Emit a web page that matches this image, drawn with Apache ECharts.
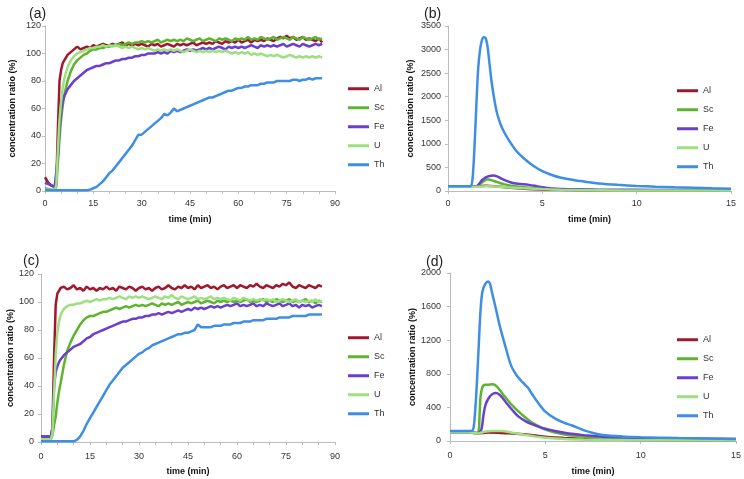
<!DOCTYPE html>
<html>
<head>
<meta charset="utf-8">
<script src="https://cdn.jsdelivr.net/npm/echarts@6/dist/echarts.min.js"></script>
<style>
html,body{margin:0;padding:0;background:#fff;}
#chart{width:744px;height:479px;}
</style>
</head>
<body>
<div id="chart"></div>
<script>
// ---------- Data ----------
var names = ['Al', 'Sc', 'Fe', 'U', 'Th'];
var colors = ['#A0182D', '#5DB52E', '#6A3FD0', '#9DE07F', '#3E8EE6'];

// time (min) for panels (a) and (c)
var tA = [0,1,2,3,3.5,4,4.5,5,5.5,
  6,7,8,9,10,11,12,13,14,15,16,17,18,19,20,21,22,23,24,25,26,27,28,29,30,
  31,32,33,34,35,36,37,38,39,40,41,42,43,44,45,46,47,48,49,50,51,52,53,54,55,
  56,57,58,59,60,61,62,63,64,65,66,67,68,69,70,71,72,73,74,75,76,77,78,79,80,
  81,82,83,84,85,86];

// panel (a)
var alA = [10,6,4,3,5,45,80,88,93,
  95,99,101,103,105,103,104,105,104,106,105,106,107,106,106,107,106,107,108,106,107,106,107,106,107,
  106,105,107,106,107,105,106,107,106,105,107,106,107,106,107,108,106,107,108,107,108,107,109,108,107,
  109,108,109,108,110,108,109,110,108,110,109,110,109,111,110,109,111,112,111,113,111,112,110,111,112,
  110,111,110,109,111,108];
var scA = [2,1.5,1,1,3,20,38,52,62,
  70,80,87,92,95,97,99,100,102,103,103,104,104,105,105,106,106,107,106,107,108,107,108,108,109,
  108,109,108,109,110,108,109,110,109,110,109,110,109,111,110,109,110,111,109,110,111,110,109,111,110,
  111,110,109,111,110,111,110,112,110,111,110,112,111,110,111,112,110,111,112,111,110,112,111,110,112,
  111,110,111,112,110,111];
var feA = [6,5,4,3,4,25,45,58,65,
  69,74,77,80,82,84,86,88,89,90,91,91,92,93,93,94,95,95,96,96,97,97,98,98,99,
  99,100,100,100,101,100,101,100,102,101,102,101,102,103,102,103,102,103,104,103,104,103,104,105,104,
  103,105,104,105,104,105,104,105,106,105,104,106,105,106,105,106,105,106,107,105,106,107,106,105,107,
  106,105,106,107,106,107];
var uA = [1,1,1,1,4,30,52,65,75,
  82,90,95,98,100,101,102,103,104,104,105,105,106,105,106,105,106,105,104,105,104,105,104,103,104,
  103,104,103,102,103,102,103,102,103,102,103,102,101,102,103,102,101,102,101,102,101,102,101,102,101,
  102,101,100,101,100,101,100,101,99,100,99,100,99,98,99,98,99,98,97,98,99,98,97,98,97,
  98,97,98,97,98,97];
var thA = [0.5,0.5,0.5,0.5,0.5,0.5,0.5,0.5,0.5,
  0.5,0.5,0.5,0.5,0.5,0.5,0.5,0.5,1,2,3,5,7,10,13,15,18,21,24,27,30,33,37,41,41,
  43,45,47,49,51,53,56,55,57,60,58,59,60,61,62,63,64,65,66,67,68,68,69,70,71,
  72,73,73,74,75,75,76,76,77,77,77,78,78,79,79,79,80,80,80,80,80,81,81,80,81,
  81,82,81,82,82,82];

// panel (c)
var alC = [4,4,4,3.5,10,60,98,106,108,
  110,111,109,110,112,109,110,108,111,109,110,108,110,109,111,109,110,108,111,110,109,111,110,108,110,
  111,109,110,108,110,111,109,110,112,110,109,111,110,112,110,111,109,112,110,111,112,110,111,109,111,
  112,110,111,112,110,112,111,110,112,111,113,111,110,112,111,110,112,111,113,112,114,111,110,112,111,
  110,112,111,110,112,111];
var scC = [2,2,2,2,5,12,18,28,36,
  42,55,65,71,76,80,84,87,89,90,90,91,92,93,93,94,95,96,95,96,97,96,97,98,97,
  98,97,98,99,98,97,99,98,99,98,99,100,98,99,100,99,100,101,99,100,101,100,99,101,100,
  101,100,101,100,101,100,101,102,100,101,100,101,102,100,101,100,102,101,100,101,102,100,101,100,101,
  102,100,101,99,101,100];
var feC = [4,4,4,4,10,40,50,54,57,
  59,62,64,66,68,69,70,72,74,75,77,78,79,80,81,82,83,84,85,86,86,87,88,88,89,
  89,90,90,91,91,92,91,92,93,92,93,94,93,94,95,94,96,95,96,95,96,97,96,97,96,
  97,98,97,98,99,97,98,97,98,99,97,98,97,99,98,97,98,99,97,98,99,97,98,96,98,
  97,98,96,97,98,97];
var uC = [2,2,2,2,6,35,62,78,86,
  91,95,97,98,98,99,99,100,101,100,101,102,101,102,102,103,102,103,104,103,102,104,103,104,103,
  104,103,102,103,104,103,102,104,103,105,103,102,104,103,102,103,104,102,103,102,103,104,102,103,102,
  103,102,101,103,102,101,103,102,101,102,101,102,101,102,101,102,100,101,102,101,100,101,102,100,101,
  100,101,100,102,100,101];
var thC = [0.5,0.5,0.5,0.5,0.5,0.5,0.5,0.5,0.5,
  0.5,0.5,0.5,0.5,0.5,1.5,4,8,13,17,21,25,29,33,37,41,44,47,50,53,55,57,59,61,63,
  64,66,67,69,70,71,72,73,74,75,76,77,77,78,78,79,80,84,82,82,82,82,83,83,83,
  84,84,84,85,85,85,86,86,86,87,87,87,87,88,88,88,88,89,89,89,89,90,90,90,90,
  90,91,91,91,91,91];

// panel (b): [time, value]
var alB = [[0,100],[1.5,100],[2,110],[2.5,100],[3,80],[3.5,65],[4,50],[5,32],[6,24],[7,18],[9,14],[12,10],[15,8]];
var scB = [[0,100],[1.5,100],[1.7,150],[1.9,210],[2.1,250],[2.3,230],[2.6,190],[3,140],[3.5,105],[4,80],[4.5,65],[5,50],[6,32],[7,24],[8,18],[10,14],[15,10]];
var feB = [[0,100],[1,100],[1.5,100],[1.65,150],[1.8,230],[2,290],[2.2,320],[2.4,330],[2.6,310],[2.8,270],[3,230],[3.3,185],[3.6,160],[4,145],[4.3,130],[4.6,110],[5,80],[5.5,55],[6,42],[7,33],[8,28],[10,25],[12,22],[15,20]];
var uB = [[0,90],[1,90],[1.5,88],[2,100],[2.3,100],[3,80],[3.5,70],[4,58],[5,40],[6,26],[7,18],[9,12],[12,10],[15,8]];
var thB = [[0,100],[0.5,100],[1,100],[1.2,105],[1.3,250],[1.4,900],[1.5,1800],[1.6,2600],[1.7,3000],[1.8,3200],[1.9,3260],[2,3240],[2.1,3050],[2.2,2700],[2.3,2350],[2.45,1950],[2.6,1650],[2.8,1400],[3,1230],[3.3,1030],[3.6,860],[4,700],[4.5,540],[5,420],[5.5,340],[6,280],[6.5,245],[7,210],[7.5,185],[8,160],[9,130],[10,108],[11,90],[12,78],[13,68],[14,58],[15,50]];

// panel (d): [time, value]
var alD = [[0,100],[1,100],[1.5,90],[2,100],[2.5,98],[3,92],[3.5,85],[4,78],[4.5,65],[5,52],[5.5,42],[6,35],[7,25],[8,18],[10,12],[15,6]];
var scD = [[0,100],[1,100],[1.4,95],[1.5,110],[1.55,300],[1.6,520],[1.7,640],[1.85,670],[2,670],[2.2,675],[2.4,660],[2.6,610],[2.9,520],[3.2,440],[3.6,350],[4,270],[4.3,220],[4.7,170],[5,135],[5.5,100],[6,78],[6.5,62],[7,52],[8,40],[10,30],[15,20]];
var feD = [[0,100],[1,100],[1.5,95],[1.65,140],[1.75,300],[1.85,420],[2,500],[2.2,555],[2.4,570],[2.6,550],[2.8,500],[3,440],[3.3,360],[3.6,290],[4,230],[4.3,200],[4.7,165],[5,145],[5.5,120],[6,98],[6.5,82],[7,70],[8,50],[10,35],[15,25]];
var uD = [[0,100],[1,100],[1.5,90],[1.8,110],[2.2,120],[2.7,118],[3,110],[3.5,90],[4,70],[4.5,52],[5,40],[6,25],[7,18],[8,14],[10,10],[15,6]];
var thD = [[0,120],[1,120],[1.2,130],[1.3,300],[1.4,650],[1.5,1100],[1.6,1550],[1.7,1780],[1.85,1870],[2,1900],[2.1,1870],[2.2,1770],[2.4,1580],[2.6,1380],[2.9,1130],[3.2,900],[3.5,780],[3.8,700],[4.1,630],[4.3,560],[4.6,460],[5,350],[5.5,270],[6,215],[6.4,185],[7,130],[7.5,95],[8,72],[9,55],[10,46],[12,35],[15,25]];

var panelTitles = ['(a)', '(b)', '(c)', '(d)'];
var xName = 'time (min)';
var yName = 'concentration ratio (%)';

// ---------- Chart ----------
var FONT = '"Liberation Sans", Arial, sans-serif';
function pairs(t, v) { return t.map(function (x, i) { return [x, v[i]]; }); }

var panelData = [
  [pairs(tA, alA), pairs(tA, scA), pairs(tA, feA), pairs(tA, uA), pairs(tA, thA)],
  [alB, scB, feB, uB, thB],
  [pairs(tA, alC), pairs(tA, scC), pairs(tA, feC), pairs(tA, uC), pairs(tA, thC)],
  [alD, scD, feD, uD, thD]
];

var grids = [
  {left: 45, top: 26, width: 290, height: 165},
  {left: 448, top: 26, width: 283, height: 165},
  {left: 41, top: 274, width: 294, height: 168},
  {left: 450, top: 273, width: 287, height: 168}
];
var xCfg = [
  {max: 90, interval: 15, minor: true, margin: 8, nameGap: 24},
  {max: 15, interval: 5, minor: false, margin: 8, nameGap: 24},
  {max: 90, interval: 15, minor: true, margin: 10, nameGap: 25},
  {max: 15, interval: 5, minor: false, margin: 10, nameGap: 26}
];
var yCfg = [
  {max: 120, interval: 20, margin: 4, nameGap: 28},
  {max: 3500, interval: 500, margin: 7, nameGap: 33},
  {max: 120, interval: 20, margin: 7, nameGap: 24},
  {max: 2000, interval: 400, margin: 9, nameGap: 33}
];
var titlePos = [[24, 2], [419, 2], [18, 249], [421, 250]];
var legendPos = [[348, 83], [677, 85], [348, 332], [677, 334]];

var axisLineStyle = {color: '#b8bcc4', width: 1};
var labelStyle = {color: '#333', fontSize: 9, fontFamily: FONT};
var nameStyle = {color: '#111', fontSize: 9, fontWeight: 'bold', fontFamily: FONT};

var option = {
  animation: false,
  backgroundColor: '#fff',
  title: panelTitles.map(function (t, i) {
    return {text: t, left: titlePos[i][0], top: titlePos[i][1],
      textStyle: {fontSize: 14, fontWeight: 'normal', color: '#222', fontFamily: FONT}};
  }),
  legend: legendPos.map(function (p) {
    return {data: names, orient: 'vertical', left: p[0], top: p[1], icon: 'rect',
      itemWidth: 21, itemHeight: 3, itemGap: 7.5, padding: 0,
      textStyle: {fontSize: 9, color: '#333', fontFamily: FONT, lineHeight: 11.5}};
  }),
  grid: grids,
  xAxis: xCfg.map(function (c, i) {
    return {type: 'value', gridIndex: i, min: 0, max: c.max, interval: c.interval,
      name: xName, nameLocation: 'middle', nameGap: c.nameGap, nameTextStyle: nameStyle,
      axisLine: {show: true, lineStyle: axisLineStyle},
      axisTick: {show: true, length: 3, lineStyle: axisLineStyle},
      minorTick: {show: c.minor, splitNumber: 3, length: 3, lineStyle: axisLineStyle},
      axisLabel: Object.assign({margin: c.margin, formatter: function (v) { return String(v); }}, labelStyle),
      splitLine: {show: false}};
  }),
  yAxis: yCfg.map(function (c, i) {
    return {type: 'value', gridIndex: i, min: 0, max: c.max, interval: c.interval,
      name: yName, nameLocation: 'middle', nameGap: c.nameGap, nameTextStyle: nameStyle,
      axisLine: {show: true, lineStyle: axisLineStyle},
      axisTick: {show: true, length: 3, lineStyle: axisLineStyle},
      axisLabel: Object.assign({margin: c.margin, formatter: function (v) { return String(v); }}, labelStyle),
      splitLine: {show: false}};
  }),
  series: []
};

panelData.forEach(function (set, p) {
  set.forEach(function (d, k) {
    option.series.push({
      type: 'line', name: names[k], xAxisIndex: p, yAxisIndex: p,
      data: d, showSymbol: false, symbol: 'none',
      smooth: (p === 1 || p === 3) ? 0.3 : false,
      lineStyle: {color: colors[k], width: 2.5},
      itemStyle: {color: colors[k]},
      z: 2 + k
    });
  });
});

var chart = echarts.init(document.getElementById('chart'), null, {renderer: 'canvas'});
chart.setOption(option);
</script>
</body>
</html>
